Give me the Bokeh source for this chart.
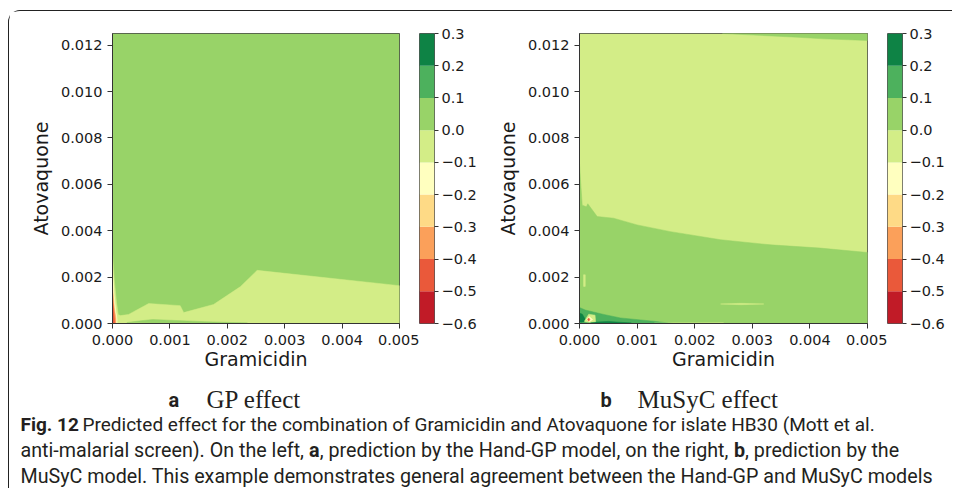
from bokeh.plotting import figure
from bokeh.layouts import row, column
from bokeh.models import Range1d, FixedTicker, CustomJSTickFormatter
from bokeh.embed import file_html
from bokeh.resources import INLINE
from bokeh.core.properties import value

# ---------------- data ----------------
gramicidin_range = [0.0, 0.005]
atovaquone_range = [0.0, 0.0125]
gramicidin_ticks = [0.000, 0.001, 0.002, 0.003, 0.004, 0.005]
atovaquone_ticks = [0.000, 0.002, 0.004, 0.006, 0.008, 0.010, 0.012]
effect_levels = [-0.6, -0.5, -0.4, -0.3, -0.2, -0.1, 0.0, 0.1, 0.2, 0.3]
band_colors = ["#c11b27", "#ea593a", "#fba05a", "#feda86", "#ffffbf",
               "#d3ed87", "#98d368", "#4db15d", "#0e8345"]

# panel a (GP effect): background band = 0.0..0.1 (index 6)
a_background_band = 6
a_light_x = [0.0, 0.0, 0.00003, 0.00007, 0.0001, 0.00014, 0.00028, 0.00063, 0.00118, 0.00124, 0.00176, 0.00223, 0.00252, 0.005, 0.005]
a_light_y = [0.0, 0.00305, 0.0019, 0.0009, 0.00038, 0.00034, 0.00039, 0.00086, 0.00077, 0.00047, 0.00082, 0.00159, 0.00229, 0.00163, 0.0]
a_strip_x = [0.00025, 0.0005, 0.0007, 0.0011, 0.0016, 0.00235, 0.0016, 0.0007, 0.00025]
a_strip_y = [0.00004, 0.00012, 0.00017, 0.00013, 0.00008, 0.00002, 0.00001, 0.00002, 0.00004]
a_yellow_x = [0.0, 0.0, 0.00003, 0.00006, 0.00008, 0.00008]
a_yellow_y = [0.0, 0.0024, 0.0012, 0.0005, 0.0002, 0.0]
a_orange_x = [0.0, 0.0, 0.00003, 0.00006, 0.00006]
a_orange_y = [0.0, 0.0016, 0.0007, 0.0002, 0.0]
a_red_x = [0.0, 0.0, 0.00003, 0.00004]
a_red_y = [0.0, 0.0011, 0.0003, 0.0]
a_regions = [(5, a_light_x, a_light_y), (6, a_strip_x, a_strip_y),
             (4, a_yellow_x, a_yellow_y), (2, a_orange_x, a_orange_y), (1, a_red_x, a_red_y)]

# panel b (MuSyC effect): background band = -0.1..0.0 (index 5)
b_background_band = 5
b_top_x = [0.00248, 0.00378, 0.00424, 0.005, 0.005]
b_top_y = [0.0125, 0.01234, 0.01227, 0.0122, 0.0125]
b_mid_x = [0.0, 0.0, 0.000017, 0.000047, 0.00012, 0.000144, 0.000307, 0.00059, 0.001, 0.00158, 0.00245, 0.00332, 0.00418, 0.005, 0.005]
b_mid_y = [0.0, 0.0069, 0.0062, 0.0051, 0.00503, 0.00516, 0.00461, 0.00454, 0.00425, 0.00396, 0.00361, 0.00339, 0.00325, 0.00306, 0.0]
b_streak1_x = [0.00245, 0.0028, 0.0032, 0.0028]
b_streak1_y = [0.00084, 0.00087, 0.00084, 0.00081]
b_streak2_x = [0.00007, 0.0001, 0.0001, 0.00007]
b_streak2_y = [0.0016, 0.0016, 0.0021, 0.0021]
b_dark_x = [0.0, 0.0, 0.0001, 0.00042, 0.00071, 0.00128, 0.00162]
b_dark_y = [0.0, 0.00069, 0.00058, 0.00039, 0.00024, 0.0001, 0.0]
b_darkest_x = [0.0, 0.0, 0.00005, 0.0001, 0.00008, 0.00003]
b_darkest_y = [0.00008, 0.00045, 0.0004, 0.00018, 0.00008, 0.00005]
b_darkest2_x = [0.0002, 0.0005, 0.0009, 0.0005, 0.0002]
b_darkest2_y = [0.00005, 0.00009, 0.00002, 0.0, 0.0]
b_blob_x = [0.00009, 0.00016, 0.00027, 0.00028, 0.00016, 0.00009]
b_blob_y = [0.00012, 0.0004, 0.00036, 0.00008, 0.00005, 0.00008]
b_blob_yellow_x = [0.00012, 0.00017, 0.00023, 0.00017]
b_blob_yellow_y = [0.00017, 0.0003, 0.00017, 0.00007]
b_blob_red_x = [0.00014, 0.00016, 0.00018, 0.00016]
b_blob_red_y = [0.00017, 0.00024, 0.00017, 0.0001]
b_bottom_light_x = [0.0013, 0.0025, 0.0025, 0.0013]
b_bottom_light_y = [0.0, 0.0, 0.00003, 0.00002]
b_regions = [(6, b_top_x, b_top_y), (6, b_mid_x, b_mid_y),
             (5, b_streak1_x, b_streak1_y), (5, b_streak2_x, b_streak2_y),
             (7, b_dark_x, b_dark_y), (8, b_darkest_x, b_darkest_y),
             (8, b_darkest2_x, b_darkest2_y), (5, b_bottom_light_x, b_bottom_light_y),
             (5, b_blob_x, b_blob_y), (4, b_blob_yellow_x, b_blob_yellow_y),
             (1, b_blob_red_x, b_blob_red_y)]

x_label = "Gramicidin"
y_label = "Atovaquone"
sub_letters = ["a", "b"]
sub_titles = ["GP effect", "MuSyC effect"]
fig_label = "Fig. 12"
caption_line1 = "Predicted effect for the combination of Gramicidin and Atovaquone for islate HB30 (Mott et al."
caption_line2 = ["anti-malarial screen). On the left, ", "a", ", prediction by the Hand-GP model, on the right, ", "b", ", prediction by the"]
caption_line3 = "MuSyC model. This example demonstrates general agreement between the Hand-GP and MuSyC models"

# ---------------- layout constants ----------------
TOP, BOTTOM = 22, 48
FRAME_H = 291
H = TOP + FRAME_H + BOTTOM
TXT = "#1a1a1a"
AX = "#333333"


def style_axis(ax, standoff, label_standoff):
    ax.axis_line_color = AX
    ax.major_tick_line_color = AX
    ax.major_tick_in = 0
    ax.major_tick_out = 5
    ax.minor_tick_line_color = None
    ax.major_label_text_font = "DejaVu Sans"
    ax.major_label_text_font_size = "14.5px"
    ax.major_label_text_color = TXT
    ax.major_label_standoff = standoff
    ax.axis_label_text_font = "DejaVu Sans"
    ax.axis_label_text_font_size = "19px"
    ax.axis_label_text_font_style = "normal"
    ax.axis_label_text_color = TXT
    ax.axis_label_standoff = label_standoff


def make_main(ml, fw, mr, bg_band, regions):
    p = figure(width=ml + fw + mr, height=H,
               x_range=Range1d(*gramicidin_range), y_range=Range1d(*atovaquone_range),
               output_backend="svg", toolbar_location=None,
               min_border_left=ml, min_border_right=mr,
               min_border_top=TOP, min_border_bottom=BOTTOM,
               x_axis_label=x_label, y_axis_label=y_label)
    p.grid.visible = False
    p.outline_line_color = "#444444"
    p.outline_line_width = 1
    x0, x1 = gramicidin_range
    y0, y1 = atovaquone_range
    p.patch([x0, x1, x1, x0], [y0, y0, y1, y1], fill_color=band_colors[bg_band], line_color=None)
    for band, xs, ys in regions:
        p.patch(xs, ys, fill_color=band_colors[band], line_color=band_colors[band], line_width=0.5)
    p.xaxis.ticker = FixedTicker(ticks=gramicidin_ticks)
    p.yaxis.ticker = FixedTicker(ticks=atovaquone_ticks)
    p.xaxis.formatter = CustomJSTickFormatter(code="return tick.toFixed(3);")
    p.yaxis.formatter = CustomJSTickFormatter(code="return tick.toFixed(3);")
    style_axis(p.xaxis[0], 6, 0)
    style_axis(p.yaxis[0], 5, 6)
    return p


def make_cbar(mr):
    p = figure(width=15 + mr, height=H,
               x_range=Range1d(0, 1), y_range=Range1d(effect_levels[0], effect_levels[-1]),
               output_backend="svg", toolbar_location=None,
               x_axis_location=None, y_axis_location="right",
               min_border_left=0, min_border_right=mr,
               min_border_top=TOP, min_border_bottom=BOTTOM)
    p.grid.visible = False
    p.outline_line_color = "#555555"
    p.quad(left=0, right=1, bottom=effect_levels[:-1], top=effect_levels[1:],
           fill_color=band_colors, line_color=None)
    ax = p.yaxis[0]
    ax.ticker = FixedTicker(ticks=effect_levels)
    ax.formatter = CustomJSTickFormatter(code="""
        const v = Math.abs(tick) < 1e-9 ? 0 : tick;
        return (v < 0 ? '\\u2212' : '') + Math.abs(v).toFixed(1);""")
    ax.axis_line_color = None
    ax.major_tick_line_color = AX
    ax.major_tick_in = 0
    ax.major_tick_out = 4
    ax.minor_tick_line_color = None
    ax.major_label_text_font = "DejaVu Sans"
    ax.major_label_text_font_size = "14.5px"
    ax.major_label_text_color = TXT
    ax.major_label_standoff = 3
    return p


pa = make_main(103, 287, 20, a_background_band, a_regions)
ca = make_cbar(50)
pb = make_main(95, 288, 20, b_background_band, b_regions)
cbb = make_cbar(50)

# ---------------- caption ----------------
CW, CH = 943, 116
X_OFF, Y_OFF = 9, 372   # page position of the caption canvas
cap = figure(width=CW, height=CH, x_range=Range1d(0, CW), y_range=Range1d(CH, 0),
             output_backend="svg", toolbar_location=None,
             x_axis_location=None, y_axis_location=None,
             min_border=0, outline_line_color=None)
cap.grid.visible = False

# approximate Roboto advance widths (units per 2048 em) used to flow mixed bold/regular text
ROBOTO = {' ': 507, '(': 699, ')': 711, ',': 393, '-': 565, '.': 528,
          'A': 1336, 'G': 1395, 'H': 1460, 'M': 1788, 'O': 1408, 'P': 1292, 'S': 1217, 'C': 1333, 'T': 1222,
          'a': 1087, 'b': 1120, 'c': 1044, 'd': 1126, 'e': 1058, 'f': 693, 'g': 1120, 'h': 1101,
          'i': 486, 'l': 486, 'm': 1753, 'n': 1104, 'o': 1140, 'p': 1120, 'r': 677, 's': 1032,
          't': 655, 'u': 1101, 'v': 968, 'x': 991, 'y': 947}
ROBOTO_BOLD = {'a': 1100, 'b': 1140}
WIDTH_FUDGE = 1.02


def text_width(s, size, bold=False):
    tbl = ROBOTO_BOLD if bold else ROBOTO
    return WIDTH_FUDGE * sum(tbl.get(ch, ROBOTO.get(ch, 1050)) for ch in s) / 2048.0 * size


def T(x, y, s, font, size, style="normal"):
    cap.text(x=[x - X_OFF], y=[y - Y_OFF], text=[s], text_font=value(font),
             text_font_size=f"{size}px", text_font_style=style, text_color="#231f20",
             text_baseline="alphabetic", text_align="left")


T(168, 399, sub_letters[0], "Roboto", 20, "bold")
T(206, 399, sub_titles[0], "Liberation Serif", 25)
T(600, 399, sub_letters[1], "Roboto", 20, "bold")
T(637, 399, sub_titles[1], "Liberation Serif", 25)

F1, F2 = 19.0, 19.7
T(20, 424, fig_label, "Roboto", F1, "bold")
T(82, 424, caption_line1, "Roboto", F1)

xpos = 20
for i, seg in enumerate(caption_line2):
    bold = (i % 2 == 1)
    T(xpos, 450, seg, "Roboto", F2, "bold" if bold else "normal")
    xpos += text_width(seg, F2, bold)

T(20, 476, caption_line3, "Roboto", F2)

layout = column(row(pa, ca, pb, cbb), cap,
                styles={"margin-left": "8px", "margin-top": "10px",
                        "border-top": "1.3px solid #222", "border-left": "1.3px solid #222",
                        "border-top-left-radius": "12px"})

open("out.html", "w").write(file_html(layout, INLINE))
